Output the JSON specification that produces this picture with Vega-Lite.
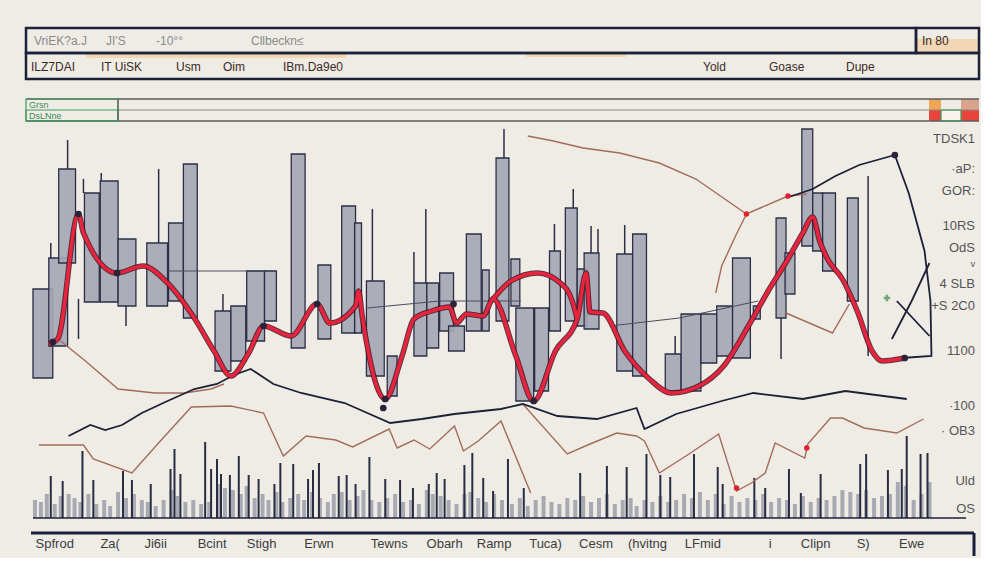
{
"$schema": "https://vega.github.io/schema/vega-lite/v6.json",
"background": "#efece6",
"padding": {"left": 24, "top": 26, "right": 0, "bottom": 0},
"bounds": "flush",
"spacing": 20,
"config": {"view": {"stroke": null}, "font": "Liberation Sans"},
"datasets": {
"candles": [
{"d0":1,"d1":11,"lo":70,"hi":114.5},{"d0":9,"d1":18.5,"lo":86,"hi":130},{"d0":14,"d1":22.5,"lo":127.5,"hi":174.5},{"d0":27,"d1":34.5,"lo":108,"hi":162.5},{"d0":35,"d1":44,"lo":108,"hi":168.5},{"d0":44,"d1":53,"lo":106,"hi":139.5},{"d0":58.5,"d1":69,"lo":106,"hi":137.5},{"d0":69.5,"d1":77,"lo":108.5,"hi":147.5},{"d0":77,"d1":84,"lo":100,"hi":177},{"d0":93,"d1":101,"lo":73.5,"hi":103.5},{"d0":101,"d1":108.5,"lo":78.5,"hi":106},{"d0":109,"d1":118,"lo":88.5,"hi":123.5},{"d0":118,"d1":124,"lo":98.5,"hi":123.5},{"d0":131.5,"d1":138.5,"lo":85,"hi":182},{"d0":145,"d1":151.5,"lo":89.5,"hi":126.5},{"d0":157,"d1":164,"lo":92.5,"hi":156},{"d0":163.5,"d1":167,"lo":92.5,"hi":147.5},{"d0":169.5,"d1":178.5,"lo":71,"hi":118.5},{"d0":180,"d1":185,"lo":61,"hi":81},{"d0":193.5,"d1":200,"lo":81,"hi":117.5},{"d0":200,"d1":206,"lo":85,"hi":117.5},{"d0":206.5,"d1":213.5,"lo":93.5,"hi":122.5},{"d0":211,"d1":219,"lo":83.5,"hi":96},{"d0":220,"d1":227.5,"lo":93.5,"hi":142},{"d0":228,"d1":231.5,"lo":93.5,"hi":124},{"d0":235,"d1":241.5,"lo":98.5,"hi":180},{"d0":242.5,"d1":247,"lo":106,"hi":129.5},{"d0":245,"d1":254,"lo":58.5,"hi":105},{"d0":254.5,"d1":261.5,"lo":63.5,"hi":105},{"d0":262,"d1":267.5,"lo":93.5,"hi":133.5},{"d0":270,"d1":276,"lo":98.5,"hi":155},{"d0":276,"d1":281,"lo":96,"hi":124.5},{"d0":279.5,"d1":287,"lo":94.5,"hi":132.5},{"d0":296,"d1":304,"lo":73.5,"hi":132},{"d0":304,"d1":311,"lo":71,"hi":142},{"d0":320.5,"d1":328.5,"lo":63.5,"hi":82},{"d0":328.5,"d1":338.5,"lo":63.5,"hi":102},{"d0":338.5,"d1":346.5,"lo":77.5,"hi":102},{"d0":346.5,"d1":354.5,"lo":81,"hi":106},{"d0":354.5,"d1":363.5,"lo":80,"hi":130},{"d0":365,"d1":368.5,"lo":99.5,"hi":106},{"d0":376.5,"d1":381.5,"lo":100,"hi":150},{"d0":381,"d1":386,"lo":112,"hi":132.5},{"d0":389.5,"d1":395,"lo":136,"hi":194.5},{"d0":395,"d1":400,"lo":133.5,"hi":162.5},{"d0":400,"d1":406.5,"lo":123.5,"hi":162.5},{"d0":412.5,"d1":418,"lo":108.5,"hi":160}
],
"wicks": [
{"d":10,"lo":130,"hi":137.5},{"d":18.5,"lo":174.5,"hi":189},{"d":26.5,"lo":162.5,"hi":169.5},{"d":35.5,"lo":168.5,"hi":172.5},{"d":24,"lo":89.5,"hi":109.5},{"d":48,"lo":96,"hi":106},{"d":64.5,"lo":137.5,"hi":174.5},{"d":97,"lo":103.5,"hi":112},{"d":172.5,"lo":118.5,"hi":154.5},{"d":199.5,"lo":117.5,"hi":154.5},{"d":193.5,"lo":117.5,"hi":133},{"d":239,"lo":180,"hi":194.5},{"d":264.5,"lo":133.5,"hi":147},{"d":274,"lo":155,"hi":164.5},{"d":283,"lo":132.5,"hi":146},{"d":286.5,"lo":132.5,"hi":144.5},{"d":300,"lo":132,"hi":146.5},{"d":325.5,"lo":82,"hi":91},{"d":379,"lo":79.5,"hi":100},{"d":423,"lo":81,"hi":171}
],
"volgray": [
{"d":2,"p":9},{"d":5,"p":8},{"d":8,"p":12},{"d":12,"p":7},{"d":15,"p":11},{"d":19,"p":12},{"d":22,"p":10},{"d":25,"p":8},{"d":29,"p":12},{"d":33,"p":7},{"d":37,"p":9},{"d":40,"p":6},{"d":44,"p":13},{"d":48,"p":10},{"d":52,"p":12},{"d":56,"p":9},{"d":59,"p":8},{"d":63,"p":6},{"d":67,"p":9},{"d":71,"p":14},{"d":74,"p":11},{"d":78,"p":8},{"d":82,"p":9},{"d":86,"p":7},{"d":90,"p":8},{"d":95,"p":17},{"d":98,"p":15},{"d":102,"p":14},{"d":106,"p":12},{"d":109,"p":16},{"d":113,"p":10},{"d":117,"p":12},{"d":120,"p":9},{"d":124,"p":13},{"d":127,"p":8},{"d":131,"p":10},{"d":135,"p":12},{"d":138,"p":9},{"d":142,"p":13},{"d":146,"p":10},{"d":150,"p":8},{"d":153,"p":12},{"d":157,"p":13},{"d":161,"p":9},{"d":165,"p":11},{"d":168,"p":14},{"d":172,"p":9},{"d":176,"p":8},{"d":180,"p":10},{"d":184,"p":12},{"d":188,"p":8},{"d":192,"p":9},{"d":196,"p":7},{"d":200,"p":14},{"d":203,"p":12},{"d":207,"p":11},{"d":211,"p":9},{"d":215,"p":7},{"d":219,"p":12},{"d":222,"p":13},{"d":226,"p":10},{"d":230,"p":8},{"d":234,"p":12},{"d":238,"p":9},{"d":243,"p":7},{"d":247,"p":10},{"d":251,"p":6},{"d":255,"p":9},{"d":259,"p":11},{"d":263,"p":8},{"d":267,"p":7},{"d":271,"p":10},{"d":275,"p":9},{"d":279,"p":11},{"d":283,"p":8},{"d":287,"p":10},{"d":291,"p":12},{"d":295,"p":7},{"d":299,"p":9},{"d":303,"p":10},{"d":306,"p":6},{"d":310,"p":9},{"d":314,"p":8},{"d":318,"p":11},{"d":322,"p":8},{"d":326,"p":9},{"d":330,"p":12},{"d":334,"p":10},{"d":338,"p":13},{"d":342,"p":9},{"d":346,"p":12},{"d":350,"p":7},{"d":354,"p":11},{"d":358,"p":8},{"d":362,"p":10},{"d":366,"p":9},{"d":370,"p":12},{"d":374,"p":8},{"d":378,"p":10},{"d":382,"p":9},{"d":386,"p":7},{"d":390,"p":11},{"d":394,"p":8},{"d":398,"p":10},{"d":402,"p":9},{"d":406,"p":11},{"d":410,"p":14},{"d":414,"p":13},{"d":418,"p":12},{"d":422,"p":14},{"d":426,"p":10},{"d":430,"p":11},{"d":434,"p":12},{"d":438,"p":18},{"d":442,"p":16},{"d":446,"p":9},{"d":450,"p":12},{"d":454,"p":18}
],
"volspike": [
{"d":10,"p":21},{"d":16,"p":18.5},{"d":26,"p":33.5},{"d":31.5,"p":19},{"d":46.5,"p":23.5},{"d":51,"p":19},{"d":60.5,"p":17},{"d":70.5,"p":24.5},{"d":72.5,"p":34.5},{"d":75.5,"p":22},{"d":88,"p":38},{"d":91,"p":24.5},{"d":94,"p":29.5},{"d":96,"p":22},{"d":100.5,"p":21.5},{"d":105,"p":31},{"d":110,"p":21.5},{"d":115,"p":19.5},{"d":123,"p":17},{"d":126,"p":27.5},{"d":132.5,"p":27},{"d":140,"p":19.5},{"d":142.5,"p":24},{"d":145.5,"p":27.5},{"d":155.5,"p":21},{"d":159.5,"p":21.5},{"d":164,"p":17},{"d":171,"p":30.5},{"d":179,"p":19.5},{"d":186.5,"p":19},{"d":193,"p":15},{"d":201,"p":17},{"d":205,"p":22.5},{"d":209,"p":19.5},{"d":219,"p":26.5},{"d":223,"p":32.5},{"d":228.5,"p":20},{"d":233.5,"p":13.5},{"d":241,"p":29.5},{"d":249,"p":15},{"d":277.5,"p":22.5},{"d":291,"p":26},{"d":301,"p":25.5},{"d":311,"p":32},{"d":318,"p":21.5},{"d":323,"p":20.5},{"d":335,"p":32},{"d":347,"p":25.5},{"d":349.5,"p":17},{"d":365.5,"p":20},{"d":371,"p":15},{"d":383,"p":24.5},{"d":389,"p":12.5},{"d":399,"p":22},{"d":419,"p":27},{"d":422,"p":32},{"d":433,"p":24},{"d":440,"p":24.5},{"d":442.5,"p":41},{"d":449.5,"p":32},{"d":453,"p":32.5}
],
"brown": [
{"s":"A","d":15,"p":88.5},{"s":"A","d":27.5,"p":78.5},{"s":"A","d":44,"p":64.5},{"s":"A","d":62.5,"p":62.5},{"s":"A","d":77.5,"p":62.5},{"s":"A","d":91,"p":64.5},{"s":"A","d":97.5,"p":67},
{"s":"B","d":4,"p":36.5},{"s":"B","d":26.5,"p":36.5},{"s":"B","d":31.5,"p":29.5},{"s":"B","d":51,"p":22.5},{"s":"B","d":64,"p":37},{"s":"B","d":81,"p":55.5},{"s":"B","d":101,"p":56},{"s":"B","d":117.5,"p":52.5},{"s":"B","d":127.5,"p":31},{"s":"B","d":139,"p":41},{"s":"B","d":154,"p":39},{"s":"B","d":162.5,"p":35.5},{"s":"B","d":181,"p":44.5},{"s":"B","d":185,"p":35},{"s":"B","d":193.5,"p":39},{"s":"B","d":201.5,"p":34.5},{"s":"B","d":214,"p":46},{"s":"B","d":218.5,"p":33.5},{"s":"B","d":226,"p":38.5},{"s":"B","d":237.5,"p":48.5},{"s":"B","d":252.5,"p":12.5},
{"s":"C","d":248.5,"p":57},{"s":"C","d":271,"p":32},{"s":"C","d":282.5,"p":37},{"s":"C","d":296,"p":42.5},{"s":"C","d":306,"p":41},{"s":"C","d":310,"p":38.5},{"s":"C","d":317.5,"p":22.5},{"s":"C","d":332.5,"p":32},{"s":"C","d":347.5,"p":42},{"s":"C","d":356.5,"p":13.5},{"s":"C","d":364,"p":17.5},{"s":"C","d":371,"p":22.5},{"s":"C","d":376,"p":37.5},{"s":"C","d":391,"p":30},{"s":"C","d":392.5,"p":37},{"s":"C","d":404,"p":50},{"s":"C","d":410,"p":50},{"s":"C","d":421,"p":45},{"s":"C","d":437.5,"p":42.5},{"s":"C","d":451,"p":49.5},
{"s":"D","d":251,"p":191},{"s":"D","d":264,"p":188.5},{"s":"D","d":279,"p":185},{"s":"D","d":297.5,"p":182.5},{"s":"D","d":317.5,"p":177.5},{"s":"D","d":336,"p":169.5},{"s":"D","d":361.5,"p":152},{"s":"D","d":382.5,"p":161},{"s":"D","d":392,"p":162},
{"s":"E","d":361.5,"p":152},{"s":"E","d":356,"p":141},{"s":"E","d":349,"p":126},{"s":"E","d":346,"p":112.5},
{"s":"F","d":381.5,"p":102.5},{"s":"F","d":405,"p":92.5},{"s":"F","d":413.5,"p":107}
],
"black": [
{"s":"K1","d":19,"p":41},{"s":"K1","d":30,"p":46.5},{"s":"K1","d":37.5,"p":44},{"s":"K1","d":46,"p":46.5},{"s":"K1","d":56,"p":52.5},{"s":"K1","d":69,"p":58.5},{"s":"K1","d":82.5,"p":64.5},{"s":"K1","d":94,"p":67},{"s":"K1","d":102.5,"p":71.5},{"s":"K1","d":111,"p":74.5},{"s":"K1","d":122.5,"p":67},{"s":"K1","d":136.5,"p":62.5},{"s":"K1","d":158.5,"p":57.5},{"s":"K1","d":181.5,"p":47.5},{"s":"K1","d":197.5,"p":49.5},{"s":"K1","d":214,"p":52},{"s":"K1","d":237.5,"p":54.5},{"s":"K1","d":248.5,"p":57},{"s":"K1","d":266,"p":51},{"s":"K1","d":286,"p":49.5},{"s":"K1","d":306,"p":55},{"s":"K1","d":310,"p":44.5},{"s":"K1","d":326,"p":52},{"s":"K1","d":349,"p":58.5},{"s":"K1","d":365,"p":62.5},{"s":"K1","d":390,"p":59.5},{"s":"K1","d":411.5,"p":63.5},{"s":"K1","d":442.5,"p":59.5},
{"s":"K2","d":381.5,"p":160},{"s":"K2","d":395,"p":164.5},{"s":"K2","d":406.5,"p":171},{"s":"K2","d":418.5,"p":176.5},{"s":"K2","d":436.5,"p":181.5},{"s":"K2","d":443.5,"p":162.5},{"s":"K2","d":451.5,"p":133.5},{"s":"K2","d":454.5,"p":108.5},{"s":"K2","d":455,"p":81},{"s":"K2","d":440,"p":80},
{"s":"K3","d":435,"p":89.5},{"s":"K3","d":445,"p":108.5},{"s":"K3","d":454,"p":127.5},
{"s":"K4","d":437.5,"p":108.5},{"s":"K4","d":454,"p":91}
],
"thin": [
{"s":"T1","d":69,"p":123.5},{"s":"T1","d":122.5,"p":123.5},
{"s":"T2","d":170,"p":105},{"s":"T2","d":206.5,"p":108.5},{"s":"T2","d":247.5,"p":108.5},
{"s":"T3","d":292.5,"p":96},{"s":"T3","d":327.5,"p":100},{"s":"T3","d":367.5,"p":108.5}
],
"red": [
{"s":"R1","d":9,"p":87},{"s":"R1","d":13.5,"p":89.5},{"s":"R1","d":24,"p":152},{"s":"R1","d":26.5,"p":142.5},{"s":"R1","d":43.5,"p":122.5},{"s":"R1","d":56.5,"p":126},{"s":"R1","d":69,"p":117.5},{"s":"R1","d":82.5,"p":100},{"s":"R1","d":92.5,"p":83.5},{"s":"R1","d":101,"p":71},{"s":"R1","d":110,"p":82.5},{"s":"R1","d":117.5,"p":96},{"s":"R1","d":131.5,"p":91},{"s":"R1","d":144.5,"p":107},{"s":"R1","d":151,"p":97.5},{"s":"R1","d":164,"p":106},{"s":"R1","d":165.5,"p":113.5},{"s":"R1","d":167.5,"p":100},{"s":"R1","d":179,"p":59.5},{"s":"R1","d":187.5,"p":81},{"s":"R1","d":193.5,"p":99.5},{"s":"R1","d":202.5,"p":103.5},{"s":"R1","d":211.5,"p":105.5},{"s":"R1","d":215,"p":97.5},{"s":"R1","d":220,"p":102},{"s":"R1","d":228.5,"p":101},{"s":"R1","d":233.5,"p":109.5},{"s":"R1","d":245,"p":81},{"s":"R1","d":254,"p":58.5},{"s":"R1","d":265,"p":83.5},{"s":"R1","d":276,"p":99.5},{"s":"R1","d":280.5,"p":122.5},{"s":"R1","d":282.5,"p":103},{"s":"R1","d":289,"p":102.5},{"s":"R1","d":300,"p":83.5},{"s":"R1","d":312.5,"p":69.5},{"s":"R1","d":323.5,"p":62.5},{"s":"R1","d":337.5,"p":66},{"s":"R1","d":350,"p":76},{"s":"R1","d":362.5,"p":96},{"s":"R1","d":372.5,"p":113.5},{"s":"R1","d":382.5,"p":129.5},{"s":"R1","d":390,"p":142.5},{"s":"R1","d":395,"p":150.5},{"s":"R1","d":398.5,"p":138.5},{"s":"R1","d":402.5,"p":129.5},{"s":"R1","d":410,"p":119.5},{"s":"R1","d":417.5,"p":103.5},{"s":"R1","d":425,"p":83.5},{"s":"R1","d":430,"p":78.5},{"s":"R1","d":441.5,"p":80},
{"s":"R2","d":233.5,"p":109.5},{"s":"R2","d":242.5,"p":118.5},{"s":"R2","d":256,"p":122.5},{"s":"R2","d":267.5,"p":117.5},{"s":"R2","d":273.5,"p":108.5},{"s":"R2","d":276,"p":99.5}
],
"darkdots": [
{"d":11,"p":88},{"d":24,"p":152},{"d":43.5,"p":122.5},{"d":117.5,"p":96},{"d":144.5,"p":107},{"d":179,"p":59.5},{"d":178,"p":55},{"d":213.5,"p":107},{"d":254,"p":58.5},{"d":441.5,"p":80},{"d":436.5,"p":181.5}
],
"reddots": [
{"d":361.5,"p":152},{"d":382.5,"p":161},{"d":151,"p":97.5},{"d":356.5,"p":15},{"d":392,"p":35}
],
"rightlabels": [
{"t":"TDSK1","p":189.5},{"t":"·aP:","p":174.5},{"t":"GOR:","p":163.5},{"t":"10RS","p":146},{"t":"OdS","p":135},{"t":"ᵛ","p":126},{"t":"4 SLB","p":117},{"t":"+S 2C0","p":106},{"t":"1100","p":83.5},{"t":"·100","p":56},{"t":"· OB3","p":43.5},{"t":"Uld","p":18.5},{"t":"OS","p":4.5}
],
"bottomlabels": [
{"t":"Spfrod","d":12},{"t":"Za(","d":40},{"t":"Ji6ii","d":63},{"t":"Bcint","d":91.5},{"t":"Stigh","d":116.5},{"t":"Erwn","d":145.5},{"t":"Tewns","d":181},{"t":"Obarh","d":209},{"t":"Ramp","d":234},{"t":"Tuca)","d":260},{"t":"Cesm","d":285.5},{"t":"(hvitng","d":311.5},{"t":"LFmid","d":339.5},{"t":"i","d":373.5},{"t":"Clipn","d":396.5},{"t":"S)","d":420.5},{"t":"Ewe","d":445}
]
},
"vconcat": [
{
"width": 953, "height": 51,
"layer": [
{"data": {"values": [{"c0":30,"c1":160,"r0":10.5,"r1":13},{"c0":250,"c1":300,"r0":11,"r1":13},{"c0":445,"c1":476.5,"r0":13,"r1":20}]},
 "mark": {"type":"rect","fill":"#f2cf9e","opacity":0.7},
 "encoding": {"x":{"field":"c0","type":"quantitative","scale":{"domain":[0,476.5]},"axis":null},"x2":{"field":"c1"},"y":{"field":"r0","type":"quantitative","scale":{"domain":[0,25.5]},"axis":null},"y2":{"field":"r1"}}},
{"data": {"values": [{"c0":0,"c1":445,"r0":13,"r1":25.5},{"c0":445,"c1":476.5,"r0":13,"r1":25.5},{"c0":0,"c1":476.5,"r0":0,"r1":13}]},
 "mark": {"type":"rect","fill":"transparent","stroke":"#1d2039","strokeWidth":2.5},
 "encoding": {"x":{"field":"c0","type":"quantitative","scale":{"domain":[0,476.5]},"axis":null},"x2":{"field":"c1"},"y":{"field":"r0","type":"quantitative","scale":{"domain":[0,25.5]},"axis":null},"y2":{"field":"r1"}}},
{"data": {"values": [{"c":4,"r":19,"t":"VriEK?a.J"},{"c":40,"r":19,"t":"JI'S"},{"c":65,"r":19,"t":"-10°°"},{"c":112.5,"r":19,"t":"Cllbeckn≤"}]},
 "mark": {"type":"text","align":"left","baseline":"middle","fontSize":12,"color":"#8a8a8a"},
 "encoding": {"x":{"field":"c","type":"quantitative","scale":{"domain":[0,476.5]},"axis":null},"y":{"field":"r","type":"quantitative","scale":{"domain":[0,25.5]},"axis":null},"text":{"field":"t"}}},
{"data": {"values": [{"c":2.5,"r":6,"t":"ILZ7DAI"},{"c":37.5,"r":6,"t":"IT UiSK"},{"c":75,"r":6,"t":"Usm"},{"c":98.5,"r":6,"t":"Oim"},{"c":128.5,"r":6,"t":"IBm.Da9e0"},{"c":338.5,"r":6,"t":"Yold"},{"c":371.5,"r":6,"t":"Goase"},{"c":410,"r":6,"t":"Dupe"},{"c":448,"r":19,"t":"In 80"}]},
 "mark": {"type":"text","align":"left","baseline":"middle","fontSize":12,"color":"#3b2a22"},
 "encoding": {"x":{"field":"c","type":"quantitative","scale":{"domain":[0,476.5]},"axis":null},"y":{"field":"r","type":"quantitative","scale":{"domain":[0,25.5]},"axis":null},"text":{"field":"t"}}}
]
},
{
"width": 953, "height": 22,
"layer": [
{"data": {"values": [{"c0":451.5,"c1":457.5,"r0":5.5,"r1":11,"k":"orange"},{"c0":467.5,"c1":476.5,"r0":5.5,"r1":11,"k":"tan"},{"c0":451.5,"c1":457.5,"r0":0,"r1":5.5,"k":"red"},{"c0":467.5,"c1":476.5,"r0":0,"r1":5.5,"k":"red"},{"c0":457.5,"c1":467.5,"r0":0,"r1":5.5,"k":"white"}]},
 "mark": {"type":"rect"},
 "encoding": {"x":{"field":"c0","type":"quantitative","scale":{"domain":[0,476.5]},"axis":null},"x2":{"field":"c1"},"y":{"field":"r0","type":"quantitative","scale":{"domain":[0,11]},"axis":null},"y2":{"field":"r1"},
  "color":{"field":"k","type":"nominal","legend":null,"scale":{"domain":["orange","tan","red","white"],"range":["#f0a456","#d9a48e","#e8443c","#f7f3ec"]}}}},
{"data": {"values": [{"c0":0,"c1":476.5,"r":11},{"c0":0,"c1":476.5,"r":0}]},
 "mark": {"type":"rule","color":"#5d5d5d","strokeWidth":1.5},
 "encoding": {"x":{"field":"c0","type":"quantitative","scale":{"domain":[0,476.5]},"axis":null},"x2":{"field":"c1"},"y":{"field":"r","type":"quantitative","scale":{"domain":[0,11]},"axis":null}}},
{"data": {"values": [{"c0":46,"c1":476.5,"r":5.5}]},
 "mark": {"type":"rule","color":"#8a8a8a","strokeWidth":1},
 "encoding": {"x":{"field":"c0","type":"quantitative","scale":{"domain":[0,476.5]},"axis":null},"x2":{"field":"c1"},"y":{"field":"r","type":"quantitative","scale":{"domain":[0,11]},"axis":null}}},
{"data": {"values": [{"c0":0,"c1":46,"r0":0,"r1":11},{"c0":0,"c1":46,"r0":0,"r1":5.5},{"c0":457.5,"c1":467.5,"r0":0,"r1":5.5}]},
 "mark": {"type":"rect","fill":"transparent","stroke":"#3e9b5f","strokeWidth":1.2},
 "encoding": {"x":{"field":"c0","type":"quantitative","scale":{"domain":[0,476.5]},"axis":null},"x2":{"field":"c1"},"y":{"field":"r0","type":"quantitative","scale":{"domain":[0,11]},"axis":null},"y2":{"field":"r1"}}},
{"data": {"values": [{"c":46,"r0":0,"r1":11}]},
 "mark": {"type":"rule","color":"#5d5d5d","strokeWidth":1.2},
 "encoding": {"x":{"field":"c","type":"quantitative","scale":{"domain":[0,476.5]},"axis":null},"y":{"field":"r0","type":"quantitative","scale":{"domain":[0,11]},"axis":null},"y2":{"field":"r1"}}},
{"data": {"values": [{"c":1.5,"r":8.25,"t":"Grsn"},{"c":1.5,"r":2.75,"t":"DsLNne"}]},
 "mark": {"type":"text","align":"left","baseline":"middle","fontSize":9,"color":"#3a8a55"},
 "encoding": {"x":{"field":"c","type":"quantitative","scale":{"domain":[0,476.5]},"axis":null},"y":{"field":"r","type":"quantitative","scale":{"domain":[0,11]},"axis":null},"text":{"field":"t"}}}
]
},
{
"width": 953, "height": 377,
"layer": [
{"data": {"name":"candles"},
 "mark": {"type":"rect","fill":"#a3a7b3","fillOpacity":0.9,"stroke":"#2c2e45","strokeWidth":1.3},
 "encoding": {"x":{"field":"d0","type":"quantitative","scale":{"domain":[0,476.5]},"axis":null},"x2":{"field":"d1"},"y":{"field":"lo","type":"quantitative","scale":{"domain":[0,188.5]},"axis":null},"y2":{"field":"hi"}}},
{"data": {"name":"wicks"},
 "mark": {"type":"rule","color":"#2c2e45","strokeWidth":1.5},
 "encoding": {"x":{"field":"d","type":"quantitative","scale":{"domain":[0,476.5]},"axis":null},"y":{"field":"lo","type":"quantitative","scale":{"domain":[0,188.5]},"axis":null},"y2":{"field":"hi"}}},
{"data": {"name":"volgray"},
 "mark": {"type":"bar","orient":"vertical","size":4,"color":"#969aa6","opacity":0.8},
 "encoding": {"x":{"field":"d","type":"quantitative","scale":{"domain":[0,476.5]},"axis":null},"y":{"field":"p","type":"quantitative","scale":{"domain":[0,188.5]},"axis":null}}},
{"data": {"name":"volspike"},
 "mark": {"type":"bar","orient":"vertical","size":2,"color":"#2a2c42"},
 "encoding": {"x":{"field":"d","type":"quantitative","scale":{"domain":[0,476.5]},"axis":null},"y":{"field":"p","type":"quantitative","scale":{"domain":[0,188.5]},"axis":null}}},
{"data": {"name":"brown"},
 "mark": {"type":"line","color":"#a26c58","strokeWidth":1.4},
 "encoding": {"x":{"field":"d","type":"quantitative","scale":{"domain":[0,476.5]},"axis":null},"y":{"field":"p","type":"quantitative","scale":{"domain":[0,188.5]},"axis":null},"detail":{"field":"s"},"order":{"value":null}}},
{"data": {"name":"thin"},
 "mark": {"type":"line","color":"#4a4c5e","strokeWidth":1},
 "encoding": {"x":{"field":"d","type":"quantitative","scale":{"domain":[0,476.5]},"axis":null},"y":{"field":"p","type":"quantitative","scale":{"domain":[0,188.5]},"axis":null},"detail":{"field":"s"},"order":{"value":null}}},
{"data": {"name":"black"},
 "mark": {"type":"line","color":"#1d2036","strokeWidth":1.8},
 "encoding": {"x":{"field":"d","type":"quantitative","scale":{"domain":[0,476.5]},"axis":null},"y":{"field":"p","type":"quantitative","scale":{"domain":[0,188.5]},"axis":null},"detail":{"field":"s"},"order":{"value":null}}},
{"data": {"name":"red"},
 "mark": {"type":"line","color":"#4a1426","strokeWidth":5.5,"strokeJoin":"round","opacity":0.85,"interpolate":"monotone"},
 "encoding": {"x":{"field":"d","type":"quantitative","scale":{"domain":[0,476.5]},"axis":null},"y":{"field":"p","type":"quantitative","scale":{"domain":[0,188.5]},"axis":null},"detail":{"field":"s"},"order":{"value":null}}},
{"data": {"name":"red"},
 "mark": {"type":"line","color":"#e8243d","strokeWidth":3.5,"strokeJoin":"round","interpolate":"monotone"},
 "encoding": {"x":{"field":"d","type":"quantitative","scale":{"domain":[0,476.5]},"axis":null},"y":{"field":"p","type":"quantitative","scale":{"domain":[0,188.5]},"axis":null},"detail":{"field":"s"},"order":{"value":null}}},
{"data": {"name":"darkdots"},
 "mark": {"type":"circle","color":"#2a2238","size":45,"opacity":1},
 "encoding": {"x":{"field":"d","type":"quantitative","scale":{"domain":[0,476.5]},"axis":null},"y":{"field":"p","type":"quantitative","scale":{"domain":[0,188.5]},"axis":null}}},
{"data": {"name":"reddots"},
 "mark": {"type":"circle","color":"#e0202e","size":30,"opacity":1},
 "encoding": {"x":{"field":"d","type":"quantitative","scale":{"domain":[0,476.5]},"axis":null},"y":{"field":"p","type":"quantitative","scale":{"domain":[0,188.5]},"axis":null}}},
{"data": {"values": [{"d":432.5,"p":110}]},
 "mark": {"type":"point","shape":"cross","color":"#3d8a4a","size":40,"filled":true},
 "encoding": {"x":{"field":"d","type":"quantitative","scale":{"domain":[0,476.5]},"axis":null},"y":{"field":"p","type":"quantitative","scale":{"domain":[0,188.5]},"axis":null}}},
{"data": {"values": [{"a":1,"b":472.5,"y":0}]},
 "mark": {"type":"rule","color":"#1d2039","strokeWidth":1.5},
 "encoding": {"x":{"field":"a","type":"quantitative","scale":{"domain":[0,476.5]},"axis":null},"x2":{"field":"b"},"y":{"field":"y","type":"quantitative","scale":{"domain":[0,188.5]},"axis":null}}},
{"data": {"values": [{"a":0,"b":476.5,"y":-7.5}]},
 "mark": {"type":"rule","color":"#1b1e3c","strokeWidth":3},
 "encoding": {"x":{"field":"a","type":"quantitative","scale":{"domain":[0,476.5]},"axis":null},"x2":{"field":"b"},"y":{"field":"y","type":"quantitative","scale":{"domain":[0,188.5]},"axis":null}}},
{"data": {"values": [{"a":476.5,"y":-7.5,"y2":-19}]},
 "mark": {"type":"rule","color":"#1b1e3c","strokeWidth":3},
 "encoding": {"x":{"field":"a","type":"quantitative","scale":{"domain":[0,476.5]},"axis":null},"y":{"field":"y","type":"quantitative","scale":{"domain":[0,188.5]},"axis":null},"y2":{"field":"y2"}}},
{"data": {"name":"rightlabels"},
 "mark": {"type":"text","align":"right","baseline":"middle","fontSize":13,"color":"#555555","dx":1},
 "encoding": {"x":{"datum":476.5,"type":"quantitative","scale":{"domain":[0,476.5]},"axis":null},"y":{"field":"p","type":"quantitative","scale":{"domain":[0,188.5]},"axis":null},"text":{"field":"t"}}},
{"data": {"name":"bottomlabels"},
 "mark": {"type":"text","align":"center","baseline":"middle","fontSize":13,"color":"#3c3c3c"},
 "encoding": {"x":{"field":"d","type":"quantitative","scale":{"domain":[0,476.5]},"axis":null},"y":{"datum":-13,"type":"quantitative","scale":{"domain":[0,188.5]},"axis":null},"text":{"field":"t"}}}
]
}
]
}
